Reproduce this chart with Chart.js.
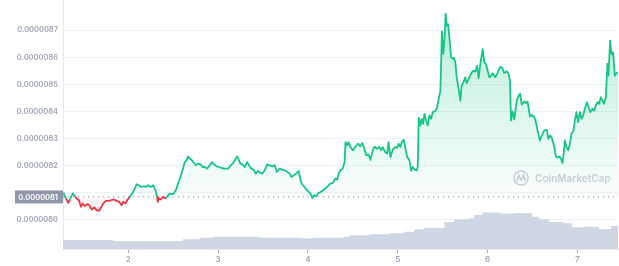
<!DOCTYPE html>
<html>
<head>
<meta charset="utf-8">
<script src="https://cdn.jsdelivr.net/npm/chart.js@4"></script>
<style>
html, body { margin: 0; padding: 0; background: #fff; }
canvas { display: block; }
</style>
</head>
<body>
<canvas id="price-chart" width="619" height="266"></canvas>
<script>
// [hour since day 1 00:00, price in USD]
const pricePoints = [
	[6.59,8.0963e-6],[6.85,8.0937e-6],[7.39,8.0779e-6],[8.0,8.0617e-6],[8.45,8.0742e-6],[9.17,8.0963e-6],
	[9.79,8.0864e-6],[10.24,8.0779e-6],[10.85,8.0716e-6],[11.39,8.0470e-6],[11.84,8.0595e-6],[12.45,8.0495e-6],
	[13.07,8.0569e-6],[13.6,8.0532e-6],[14.24,8.0374e-6],[14.93,8.0448e-6],[15.57,8.0348e-6],[16.19,8.0322e-6],
	[16.91,8.0470e-6],[17.33,8.0595e-6],[18.05,8.0691e-6],[18.93,8.0691e-6],[19.57,8.0716e-6],[20.19,8.0742e-6],
	[20.91,8.0691e-6],[21.6,8.0654e-6],[22.24,8.0532e-6],[22.67,8.0654e-6],[23.31,8.0595e-6],[23.84,8.0742e-6],
	[24.45,8.0838e-6],[25.17,8.0985e-6],[25.79,8.1147e-6],[26.24,8.1306e-6],[26.85,8.1269e-6],[27.57,8.1206e-6],
	[28.19,8.1232e-6],[28.72,8.1206e-6],[29.33,8.1269e-6],[29.97,8.1206e-6],[30.67,8.1269e-6],[31.31,8.1085e-6],
	[31.73,8.0838e-6],[31.92,8.0654e-6],[32.19,8.0779e-6],[32.72,8.0742e-6],[33.33,8.0838e-6],[34.05,8.0779e-6],
	[34.67,8.0901e-6],[35.12,8.0963e-6],[36.0,8.0937e-6],[36.72,8.1085e-6],[37.33,8.1331e-6],[37.97,8.1575e-6],
	[38.51,8.1821e-6],[39.12,8.2127e-6],[39.57,8.2190e-6],[40.0,8.2337e-6],[40.45,8.2252e-6],[40.91,8.2215e-6],
	[41.33,8.2127e-6],[42.05,8.2006e-6],[42.67,8.2068e-6],[43.31,8.2042e-6],[43.84,8.1943e-6],[44.45,8.1943e-6],
	[45.07,8.1884e-6],[45.79,8.2006e-6],[46.4,8.2127e-6],[46.93,8.2042e-6],[47.57,8.1969e-6],[48.27,8.1943e-6],
	[48.91,8.1906e-6],[49.79,8.1884e-6],[50.67,8.1884e-6],[51.39,8.2006e-6],[52.0,8.2090e-6],[52.72,8.2252e-6],
	[53.07,8.2337e-6],[53.6,8.2190e-6],[53.97,8.2068e-6],[54.51,8.2042e-6],[55.12,8.1943e-6],[55.73,8.2127e-6],
	[56.27,8.2006e-6],[56.91,8.1884e-6],[57.52,8.1847e-6],[58.05,8.1700e-6],[58.67,8.1796e-6],[59.31,8.1722e-6],
	[59.84,8.1700e-6],[60.45,8.1821e-6],[61.17,8.2042e-6],[61.79,8.2006e-6],[62.4,8.1969e-6],[63.12,8.2006e-6],
	[63.73,8.1759e-6],[64.45,8.1884e-6],[65.07,8.1847e-6],[65.79,8.1821e-6],[66.51,8.1759e-6],[67.12,8.1700e-6],
	[67.57,8.1575e-6],[68.27,8.1637e-6],[68.91,8.1700e-6],[69.52,8.1796e-6],[69.87,8.1575e-6],[70.24,8.1354e-6],
	[70.93,8.1232e-6],[71.57,8.1110e-6],[72.19,8.1022e-6],[72.72,8.0963e-6],[73.17,8.0790e-6],[73.6,8.0901e-6],
	[74.24,8.0864e-6],[74.67,8.0963e-6],[75.39,8.1022e-6],[76.0,8.1085e-6],[76.64,8.1147e-6],[77.33,8.1232e-6],
	[77.97,8.1331e-6],[78.67,8.1354e-6],[79.31,8.1516e-6],[79.84,8.1479e-6],[80.19,8.1700e-6],[80.72,8.1821e-6],
	[81.33,8.1884e-6],[81.79,8.2127e-6],[82.05,8.2864e-6],[82.51,8.2742e-6],[82.85,8.2864e-6],[83.39,8.2680e-6],
	[84.0,8.2558e-6],[84.64,8.2680e-6],[85.33,8.2805e-6],[85.97,8.2705e-6],[86.51,8.2827e-6],[86.93,8.2680e-6],
	[87.57,8.2374e-6],[88.19,8.2411e-6],[88.72,8.2208e-6],[89.33,8.2558e-6],[89.79,8.2694e-6],[90.51,8.2621e-6],
	[91.12,8.2680e-6],[91.57,8.2558e-6],[92.0,8.2680e-6],[92.64,8.2495e-6],[93.17,8.2436e-6],[93.52,8.2864e-6],
	[94.05,8.2311e-6],[94.67,8.2584e-6],[95.31,8.2680e-6],[95.84,8.2657e-6],[96.19,8.2805e-6],[96.72,8.2680e-6],
	[97.07,8.2864e-6],[97.6,8.2952e-6],[97.97,8.2680e-6],[98.51,8.2311e-6],[99.12,8.2190e-6],[99.57,8.1796e-6],
	[100.0,8.1943e-6],[100.45,8.1847e-6],[101.07,8.1821e-6],[101.33,8.1943e-6],[101.6,8.3762e-6],[102.05,8.3479e-6],
	[102.4,8.3726e-6],[102.77,8.3541e-6],[103.12,8.3910e-6],[103.57,8.3663e-6],[104.0,8.3479e-6],[104.45,8.3847e-6],
	[104.91,8.3726e-6],[105.33,8.3969e-6],[105.97,8.4006e-6],[106.4,8.4094e-6],[106.85,8.4400e-6],[107.39,8.4768e-6],
	[107.79,8.6960e-6],[108.19,8.6120e-6],[108.53,8.6757e-6],[108.8,8.7615e-6],[109.07,8.7162e-6],[109.44,8.7225e-6],
	[109.87,8.6610e-6],[110.24,8.5994e-6],[110.67,8.5947e-6],[110.99,8.5983e-6],[111.39,8.5810e-6],[111.73,8.5258e-6],
	[112.27,8.4831e-6],[112.72,8.4400e-6],[113.07,8.4952e-6],[113.6,8.5099e-6],[114.05,8.5258e-6],[114.4,8.5044e-6],
	[114.99,8.5210e-6],[115.65,8.5412e-6],[116.19,8.5505e-6],[116.72,8.5468e-6],[117.17,8.5689e-6],[117.6,8.5228e-6],
	[118.05,8.5751e-6],[118.67,8.6304e-6],[119.12,8.5810e-6],[119.57,8.5751e-6],[120.0,8.5505e-6],[120.45,8.5258e-6],
	[120.91,8.5320e-6],[121.33,8.5405e-6],[122.05,8.5265e-6],[122.72,8.5442e-6],[123.33,8.5641e-6],[123.87,8.5615e-6],
	[124.45,8.5412e-6],[125.12,8.5486e-6],[125.65,8.5357e-6],[125.97,8.5136e-6],[126.24,8.3663e-6],[126.67,8.3994e-6],
	[127.12,8.3700e-6],[127.79,8.4400e-6],[128.32,8.4584e-6],[128.67,8.4657e-6],[129.12,8.4252e-6],[129.79,8.4363e-6],
	[130.24,8.4307e-6],[130.67,8.4363e-6],[131.31,8.3810e-6],[131.84,8.3866e-6],[132.45,8.3792e-6],[132.91,8.3589e-6],
	[133.33,8.3295e-6],[133.97,8.2926e-6],[134.51,8.3110e-6],[135.12,8.3295e-6],[135.84,8.3313e-6],[136.19,8.2982e-6],
	[136.72,8.3110e-6],[137.07,8.3048e-6],[137.6,8.2805e-6],[137.97,8.2558e-6],[138.24,8.2337e-6],[138.67,8.2289e-6],
	[139.12,8.2337e-6],[139.57,8.2252e-6],[140.0,8.2090e-6],[140.27,8.2374e-6],[140.64,8.2926e-6],[141.07,8.2680e-6],
	[141.52,8.2558e-6],[141.97,8.2805e-6],[142.4,8.3173e-6],[142.93,8.3295e-6],[143.31,8.3663e-6],[143.73,8.3969e-6],
	[144.19,8.3600e-6],[144.64,8.3969e-6],[145.07,8.3726e-6],[145.52,8.3847e-6],[145.97,8.4094e-6],[146.51,8.4337e-6],
	[146.93,8.4153e-6],[147.39,8.3969e-6],[148.0,8.4094e-6],[148.45,8.4031e-6],[148.91,8.4215e-6],[149.33,8.4337e-6],
	[149.79,8.4278e-6],[150.24,8.4521e-6],[150.67,8.4400e-6],[151.12,8.4278e-6],[151.57,8.4521e-6],[152.0,8.5751e-6],
	[152.27,8.5320e-6],[152.72,8.6610e-6],[153.07,8.6120e-6],[153.52,8.6179e-6],[153.97,8.5320e-6],[154.4,8.5405e-6],
	[154.85,8.5442e-6]
];

// [hour, volume in millions] - each value holds until the next step
const volumeSteps = [
	[6.59,3.6],[19.92,3.2],[38.59,3.9],[43.12,4.5],[46.59,4.9],[59.12,4.5],[69.79,4.3],[73.25,4.5],
	[81.79,4.9],[83.12,5.5],[88.45,5.9],[93.79,6.3],[97.79,6.9],[100.45,7.9],[103.12,8.5],[107.12,8.4],
	[108.45,10.8],[111.12,11.9],[115.12,12.3],[116.45,13.6],[118.59,14.7],[123.12,14.3],[127.12,14.5],
	[131.92,12.9],[133.79,11.9],[136.45,10.8],[140.45,10.3],[142.59,8.7],[145.79,8.9],[149.79,8.0],
	[152.99,9.2],[154.85,9.2]
];

const baselinePrice = 8.0838e-6;
const baselineLabel = '0.0000081';

const yTickValues = [0.0000080, 0.0000081, 0.0000082, 0.0000083, 0.0000084, 0.0000085, 0.0000086, 0.0000087];
const yTickLabels = ['0.0000080', '', '0.0000082', '0.0000083', '0.0000084', '0.0000085', '0.0000086', '0.0000087'];
const xTickValues = [24, 48, 72, 96, 120, 144];
const xTickLabels = ['2', '3', '4', '5', '6', '7'];

const hourRange = [6.59, 154.85];
const priceRange = [7.8912e-6, 8.8083e-6];
const volumeMax = 99.6;

const green = '#16c784';
const red = '#ea3943';
const labelGray = '#9ea4b6';

Chart.defaults.font.family = 'Inter, sans-serif';

let toXY = (pairs) => pairs.map(p => ({x: p[0], y: p[1]}));

const baselineBox = {
	id: 'baselineBox',
	afterDraw(chart) {
		const ctx = chart.ctx;
		const y = chart.scales.y.getPixelForValue(baselinePrice);
		ctx.save();
		ctx.fillStyle = '#8f96a5';
		ctx.fillRect(15, y - 6.5, chart.chartArea.left - 15, 13);
		ctx.fillStyle = '#fff';
		ctx.font = '600 7.5px Inter, sans-serif';
		ctx.textAlign = 'right';
		ctx.textBaseline = 'middle';
		ctx.fillText(baselineLabel, chart.chartArea.left - 5, y + 0.5);
		ctx.restore();
	}
};

const watermark = {
	id: 'watermark',
	beforeDatasetsDraw(chart) {
		const ctx = chart.ctx;
		const cx = chart.chartArea.right - 97;
		const cy = 178;
		ctx.save();
		ctx.strokeStyle = '#cdd1da';
		ctx.lineWidth = 1.5;
		ctx.beginPath();
		ctx.arc(cx, cy, 7, 0, Math.PI * 2);
		ctx.stroke();
		ctx.beginPath();
		ctx.moveTo(cx - 4, cy + 3);
		ctx.lineTo(cx - 2.5, cy - 3);
		ctx.lineTo(cx, cy + 2);
		ctx.lineTo(cx + 2.5, cy - 3);
		ctx.lineTo(cx + 3.5, cy + 2);
		ctx.lineTo(cx + 5, cy + 1);
		ctx.stroke();
		ctx.fillStyle = '#cdd1da';
		ctx.font = '600 10px Inter, sans-serif';
		ctx.textBaseline = 'middle';
		ctx.fillText('CoinMarketCap', cx + 14, cy + 0.5);
		ctx.restore();
	}
};

const chart = new Chart(document.getElementById('price-chart'), {
	type: 'line',
	data: {
		datasets: [{
			label: 'Price',
			data: toXY(pricePoints),
			yAxisID: 'y',
			borderColor: green,
			borderWidth: 1.8,
			pointRadius: 0,
			tension: 0,
			borderJoinStyle: 'round',
			fill: {target: {value: baselinePrice}, above: 'rgba(22,199,132,0.15)', below: 'rgba(234,57,67,0.08)'},
			segment: {
				borderColor: c => ((c.p0.parsed.y + c.p1.parsed.y) / 2 < baselinePrice ? red : green)
			},
			order: 0
		}, {
			label: 'Baseline',
			data: [{x: hourRange[0], y: baselinePrice}, {x: hourRange[1], y: baselinePrice}],
			yAxisID: 'y',
			borderColor: '#9aa0ac',
			borderWidth: 1.2,
			borderDash: [1.2, 3.8],
			pointRadius: 0,
			fill: false,
			order: 1
		}, {
			label: 'Volume',
			data: toXY(volumeSteps),
			yAxisID: 'y2',
			stepped: true,
			borderWidth: 0,
			borderColor: 'rgba(0,0,0,0)',
			backgroundColor: '#cfd6e4',
			pointRadius: 0,
			fill: 'origin',
			order: 2
		}]
	},
	options: {
		responsive: false,
		animation: false,
		layout: {padding: 0},
		plugins: {
			legend: {display: false},
			tooltip: {enabled: false}
		},
		scales: {
			x: {
				type: 'linear',
				min: hourRange[0],
				max: hourRange[1],
				afterBuildTicks: s => { s.ticks = xTickValues.map(v => ({value: v})); },
				afterFit: s => { s.height = 17; s.paddingLeft = 0; s.paddingRight = 0; },
				ticks: {
					callback: (v, i) => xTickLabels[i],
					color: labelGray,
					font: {size: 8, weight: '600'},
					padding: 2,
					maxRotation: 0,
					autoSkip: false
				},
				grid: {drawOnChartArea: false, drawTicks: true, tickLength: 4, color: '#aeb3c0'},
				border: {color: '#e6e9ee'}
			},
			y: {
				type: 'linear',
				min: priceRange[0],
				max: priceRange[1],
				afterBuildTicks: s => { s.ticks = yTickValues.map(v => ({value: v})); },
				afterFit: s => { s.width = 63; s.paddingTop = 0; s.paddingBottom = 0; },
				ticks: {
					callback: (v, i) => yTickLabels[i],
					color: labelGray,
					font: {size: 7.5, weight: '600'},
					padding: 5
				},
				grid: {color: '#eff2f5', drawTicks: false},
				border: {color: '#e6e9ee'}
			},
			y2: {
				type: 'linear',
				display: false,
				min: 0,
				max: volumeMax
			}
		}
	},
	plugins: [watermark, baselineBox]
});

// gradients need the scale pixels, so they are set once the chart is laid out
const basePx = chart.scales.y.getPixelForValue(baselinePrice);
const area = chart.chartArea;
const aboveFill = chart.ctx.createLinearGradient(0, area.top, 0, basePx);
aboveFill.addColorStop(0, 'rgba(22,199,132,0.32)');
aboveFill.addColorStop(1, 'rgba(22,199,132,0.02)');
const belowFill = chart.ctx.createLinearGradient(0, basePx, 0, basePx + 18);
belowFill.addColorStop(0, 'rgba(234,57,67,0.02)');
belowFill.addColorStop(1, 'rgba(234,57,67,0.14)');
chart.data.datasets[0].fill = {target: {value: baselinePrice}, above: aboveFill, below: belowFill};
chart.update('none');
</script>
</body>
</html>
